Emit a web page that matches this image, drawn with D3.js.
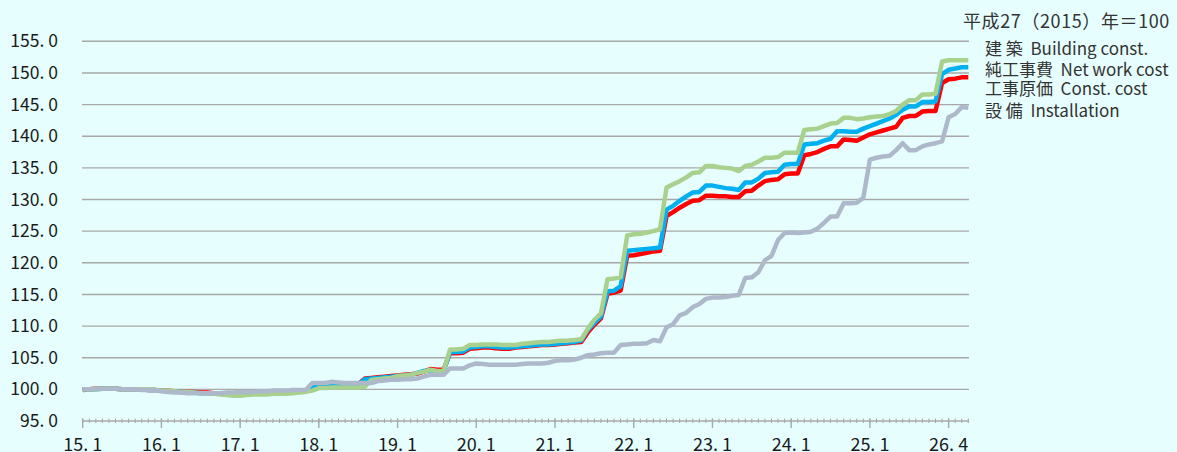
<!DOCTYPE html>
<html><head><meta charset="utf-8">
<script src="https://cdn.jsdelivr.net/npm/d3@7/dist/d3.min.js"></script>
<style>
html,body{margin:0;padding:0;background:#e6fefe;}
svg{display:block;}
text{font-family:"Noto Sans CJK JP","Noto Sans",sans-serif;}
</style></head>
<body>
<svg id="chart" width="1177" height="452"></svg>
<script>
// x-axis labels (every 12 months from Jan 2015; last shown as 26.4)
const xTickLabels = ["15. 1","16. 1","17. 1","18. 1","19. 1","20. 1","21. 1","22. 1","23. 1","24. 1","25. 1","26. 4"];
const yTicks = [95,100,105,110,115,120,125,130,135,140,145,150,155];
const baseNote = "平成27（2015）年＝100";
const seriesNames = ["建 築  Building const.","純工事費  Net work cost","工事原価  Const. cost","設 備  Installation"];

// monthly index values, Jan 2015 – Apr 2026
const building = [
 100.0,100.0,100.0,100.1,100.1,100.1,100.0,100.0,100.0,100.0,100.0,99.9,
 99.8,99.8,99.7,99.6,99.6,99.5,99.4,99.4,99.3,99.2,99.1,99.0,
 99.0,99.1,99.2,99.2,99.2,99.3,99.3,99.3,99.4,99.5,99.6,99.8,
 100.2,100.2,100.3,100.3,100.3,100.3,100.3,100.4,101.5,101.6,101.7,101.8,
 102.1,102.2,102.3,102.6,102.8,103.1,102.9,102.9,106.3,106.3,106.4,107.0,
 107.0,107.1,107.1,107.1,107.0,107.0,107.0,107.2,107.3,107.4,107.5,107.5,
 107.6,107.7,107.7,107.8,107.9,109.6,111.0,112.0,117.4,117.5,117.7,124.3,
 124.5,124.6,124.8,125.0,125.3,131.9,132.4,132.9,133.5,134.2,134.3,135.3,
 135.3,135.1,135.0,134.9,134.5,135.3,135.5,136.0,136.6,136.6,136.7,137.4,
 137.4,137.4,141.0,141.1,141.2,141.6,142.0,142.1,142.9,142.9,142.7,142.8,
 143.0,143.1,143.2,143.5,144.0,145.0,145.7,145.7,146.6,146.6,146.7,151.8,
 152.0,152.0,152.0,152.0
];
const netWork = [
 100.0,100.0,100.0,100.1,100.1,100.1,100.0,100.0,100.0,100.0,99.9,99.9,
 99.8,99.7,99.7,99.6,99.5,99.5,99.4,99.4,99.3,99.3,99.2,99.2,
 99.2,99.3,99.3,99.4,99.4,99.5,99.5,99.5,99.6,99.7,99.8,100.3,
 100.5,100.6,100.7,100.7,100.6,100.6,100.7,101.6,101.7,101.8,101.9,102.0,
 102.1,102.2,102.3,102.6,102.9,103.0,102.8,102.8,105.9,105.9,106.0,106.6,
 106.7,106.8,106.8,106.7,106.6,106.6,106.7,106.8,106.9,107.0,107.1,107.1,
 107.2,107.3,107.4,107.5,107.7,109.4,110.5,111.5,115.5,115.6,116.3,121.9,
 122.0,122.1,122.2,122.3,122.4,128.4,129.0,129.8,130.5,131.1,131.2,132.2,
 132.2,132.0,131.8,131.7,131.5,132.7,132.7,133.3,134.2,134.3,134.4,135.5,
 135.6,135.6,138.7,138.8,138.9,139.3,139.6,140.8,140.8,140.7,140.7,141.2,
 141.6,142.0,142.4,142.8,143.4,144.2,144.7,144.7,145.4,145.4,145.5,149.8,
 150.5,150.7,150.9,150.9
];
const constCost = [
 99.9,100.0,100.1,100.1,100.1,100.1,100.0,100.0,100.0,100.0,99.9,99.9,
 99.8,99.8,99.7,99.6,99.6,99.6,99.5,99.5,99.4,99.4,99.3,99.3,
 99.3,99.4,99.4,99.5,99.5,99.5,99.6,99.6,99.7,99.8,99.9,100.4,
 100.6,100.7,100.8,100.8,100.7,100.7,100.8,101.7,101.8,101.9,102.0,102.1,
 102.2,102.3,102.4,102.5,102.8,103.2,103.1,103.1,105.7,105.7,105.8,106.4,
 106.5,106.6,106.6,106.5,106.4,106.4,106.6,106.7,106.8,106.9,107.0,107.0,
 107.1,107.2,107.3,107.4,107.5,109.0,110.2,111.2,115.1,115.3,115.6,121.1,
 121.2,121.4,121.6,121.8,121.9,127.4,128.0,128.7,129.3,129.8,129.9,130.6,
 130.6,130.5,130.5,130.4,130.4,131.3,131.4,132.2,132.9,133.1,133.2,134.0,
 134.1,134.1,137.0,137.2,137.5,138.0,138.4,138.4,139.5,139.4,139.3,139.8,
 140.3,140.6,140.9,141.2,141.5,142.9,143.2,143.2,143.9,144.0,144.0,148.4,
 149.0,149.1,149.3,149.3
];
const installation = [
 100.0,100.0,100.1,100.1,100.1,100.1,100.0,100.0,100.0,99.9,99.9,99.8,
 99.7,99.6,99.5,99.5,99.4,99.4,99.4,99.4,99.4,99.4,99.5,99.5,
 99.6,99.6,99.6,99.7,99.7,99.8,99.8,99.8,99.9,99.9,99.9,101.0,
 101.0,101.0,101.2,101.1,101.0,101.0,101.0,101.0,101.0,101.3,101.4,101.5,
 101.5,101.6,101.6,101.7,102.0,102.3,102.3,102.3,103.3,103.3,103.3,103.8,
 104.1,104.0,103.9,103.9,103.9,103.9,103.9,104.0,104.1,104.1,104.1,104.2,
 104.5,104.6,104.6,104.7,105.0,105.4,105.5,105.7,105.8,105.8,107.0,107.1,
 107.2,107.2,107.3,107.8,107.6,109.8,110.3,111.7,112.1,113.0,113.5,114.3,
 114.5,114.5,114.6,114.8,114.9,117.6,117.7,118.5,120.4,121.1,123.6,124.7,
 124.8,124.7,124.8,124.9,125.4,126.3,127.3,127.3,129.4,129.4,129.5,130.3,
 136.3,136.6,136.8,136.9,137.8,138.9,137.8,137.8,138.4,138.7,138.9,139.2,
 143.0,143.5,144.6,144.5
];
const seriesColors = ["#a9d18e","#00b0f0","#ff0000","#adb9ca"];

const svg = d3.select("#chart");
const nMonths = building.length;
const x = d3.scaleLinear().domain([0, nMonths - 1]).range([82.7, 968.3]);
const y = d3.scaleLinear().domain([95, 155]).range([421, 41.3]);

// gridlines
svg.append("g").selectAll("line").data(yTicks.filter(t => t > 95)).join("line")
  .attr("x1", 82).attr("x2", 969)
  .attr("y1", d => y(d)).attr("y2", d => y(d))
  .attr("stroke", "#a8a8a8").attr("stroke-width", 1.4);

// y-axis labels
const yAxis = d3.axisLeft(y).tickValues(yTicks).tickSize(0).tickPadding(0)
  .tickFormat(d => d3.format(".1f")(d).replace(".", ". "));
svg.append("g").attr("transform", "translate(58,0)").call(yAxis)
  .call(g => g.select(".domain").remove())
  .call(g => g.selectAll("text").attr("font-size", 17.5).attr("fill", "#1a1a1a")
     .attr("font-family", '"Noto Sans CJK JP",sans-serif'));

// x axis: monthly minor ticks, yearly major ticks
const axisY = y(95);
const gx = svg.append("g");
gx.append("line").attr("x1", 82).attr("x2", 969).attr("y1", axisY).attr("y2", axisY)
  .attr("stroke", "#a8a8a8").attr("stroke-width", 1.4);
const minorIdx = d3.range(0, nMonths);
gx.selectAll("line.minor").data(minorIdx).join("line").attr("class","minor")
  .attr("x1", d => x(d)).attr("x2", d => x(d))
  .attr("y1", axisY - 2.5).attr("y2", axisY + 2)
  .attr("stroke", "#a8a8a8").attr("stroke-width", 1);
const majorIdx = xTickLabels.map((_, i) => i * 12);
gx.selectAll("line.major").data(majorIdx).join("line").attr("class","major")
  .attr("x1", d => x(d)).attr("x2", d => x(d))
  .attr("y1", axisY - 2.5).attr("y2", axisY + 7)
  .attr("stroke", "#a8a8a8").attr("stroke-width", 1.4);
gx.selectAll("text").data(xTickLabels).join("text")
  .attr("x", (d, i) => x(i * 12)).attr("y", 451)
  .attr("text-anchor", "middle").attr("font-size", 18).attr("fill", "#1a1a1a")
  .text(d => d);

// lines: red, blue, green, then gray on top (as in the reference)
const line = d3.line().x((d, i) => x(i)).y(d => y(d)).curve(d3.curveLinear);
const drawOrder = [[constCost,2],[netWork,1],[building,0],[installation,3]];
svg.append("g").selectAll("path").data(drawOrder).join("path")
  .attr("d", d => line(d[0]))
  .attr("fill", "none").attr("stroke", d => seriesColors[d[1]])
  .attr("stroke-width", 4.5).attr("stroke-linejoin", "round");

// legend / note
svg.append("text").attr("x", 963).attr("y", 28).attr("font-size", 18)
  .attr("letter-spacing", "0.6px").attr("fill", "#333").text(baseNote);
const legendY = [55, 76, 95, 117];
svg.append("g").selectAll("text").data(seriesNames).join("text")
  .attr("x", 985).attr("y", (d, i) => legendY[i])
  .attr("font-size", 17).attr("fill", "#333")
  .attr("xml:space", "preserve").style("white-space", "pre")
  .text(d => d);
</script>
</body></html>
